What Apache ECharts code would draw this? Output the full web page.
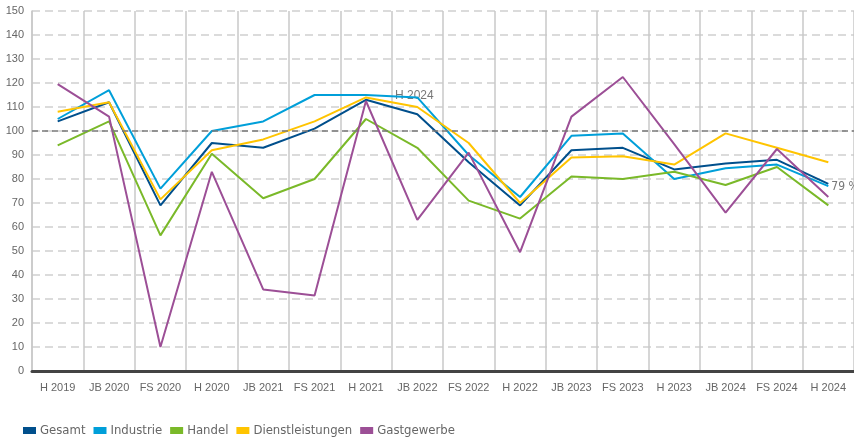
<!DOCTYPE html>
<html>
<head>
<meta charset="utf-8">
<script src="https://cdn.jsdelivr.net/npm/echarts@6/dist/echarts.min.js"></script>
<style>
  html, body { margin: 0; padding: 0; background: #fff; }
  #chart { width: 854px; height: 439px; }
</style>
</head>
<body>
<div id="chart"></div>
<script>
// periods on the x axis
var categories = ['H 2019', 'JB 2020', 'FS 2020', 'H 2020', 'JB 2021', 'FS 2021', 'H 2021', 'JB 2022',
  'FS 2022', 'H 2022', 'JB 2023', 'FS 2023', 'H 2023', 'JB 2024', 'FS 2024', 'H 2024'];

var gesamt = [104, 112, 69, 95, 93, 101, 113, 107, 87, 69, 92, 93, 84, 86.5, 88, 78];
var industrie = [105, 117, 76, 100, 104, 115, 115, 114, 90, 72.5, 98, 99, 80, 84.5, 86, 77];
var handel = [94, 104, 56.5, 90.5, 72, 80, 105, 93, 71, 63.5, 81, 80, 83, 77.5, 85, 69];
var dienstleistungen = [108, 112, 71.5, 92, 96.5, 104, 114, 110, 95, 70, 89, 89.5, 86, 99, 93, 87];
var gastgewerbe = [119.5, 106, 10, 83, 34, 31.5, 112.5, 63, 91, 49.5, 106, 122.5, 94.5, 66, 92.5, 72.5];

var names = ['Gesamt', 'Industrie', 'Handel', 'Dienstleistungen', 'Gastgewerbe'];
var colors = ['#004f8c', '#009fd9', '#7ab929', '#ffc400', '#9c4f96'];
var values = [gesamt, industrie, handel, dienstleistungen, gastgewerbe];

var myChart = echarts.init(document.getElementById('chart'));

var series = values.map(function(d, i) {
  var s = {
    name: names[i],
    type: 'line',
    data: d,
    symbol: 'none',
    lineStyle: { width: 2, color: colors[i] },
    itemStyle: { color: colors[i] }
  };
  if (i === 0) {
    s.endLabel = { show: true, formatter: '79 %', color: '#777', fontSize: 12, distance: 3, offset: [0, 3],
      fontFamily: 'DejaVu Sans Condensed, sans-serif' };
    s.markLine = {
      silent: true,
      symbol: 'none',
      label: { show: false },
      lineStyle: { color: '#7a7a7a', type: [6, 4], width: 1.5 },
      data: [{ yAxis: 100 }]
    };
  }
  return s;
});

var option = {
  animation: false,
  grid: { left: 32, right: 0, top: 11, bottom: 68 },
  legend: {
    left: 18,
    top: 419,
    itemWidth: 13,
    itemHeight: 7,
    itemGap: 8,
    icon: 'rect',
    textStyle: { color: '#666', fontSize: 13, fontFamily: 'DejaVu Sans Condensed, sans-serif', padding: [0, 0, 0, -1] },
    data: names
  },
  graphic: [{
    type: 'text',
    left: 395,
    top: 90,
    style: { text: 'H 2024', fill: '#777', fontSize: 12, fontFamily: 'Liberation Sans, sans-serif' }
  }],
  xAxis: {
    type: 'category',
    data: categories,
    boundaryGap: true,
    axisLine: { lineStyle: { color: '#444', width: 3 } },
    axisTick: { show: false },
    axisLabel: { color: '#666', fontSize: 11, margin: 11, interval: 0, fontFamily: 'Liberation Sans, sans-serif' },
    splitLine: { show: true, lineStyle: { color: '#c8c8c8', width: 1.5 } }
  },
  yAxis: {
    type: 'value',
    min: 0,
    max: 150,
    interval: 10,
    axisLine: { show: true, lineStyle: { color: '#c8c8c8', width: 1.5 } },
    axisTick: { show: false },
    axisLabel: { color: '#666', fontSize: 11, margin: 8, fontFamily: 'Liberation Sans, sans-serif' },
    splitLine: { show: true, lineStyle: { color: '#cfcfcf', type: [8, 5], width: 1.5 } }
  },
  series: series
};

option && myChart.setOption(option);
</script>
</body>
</html>
